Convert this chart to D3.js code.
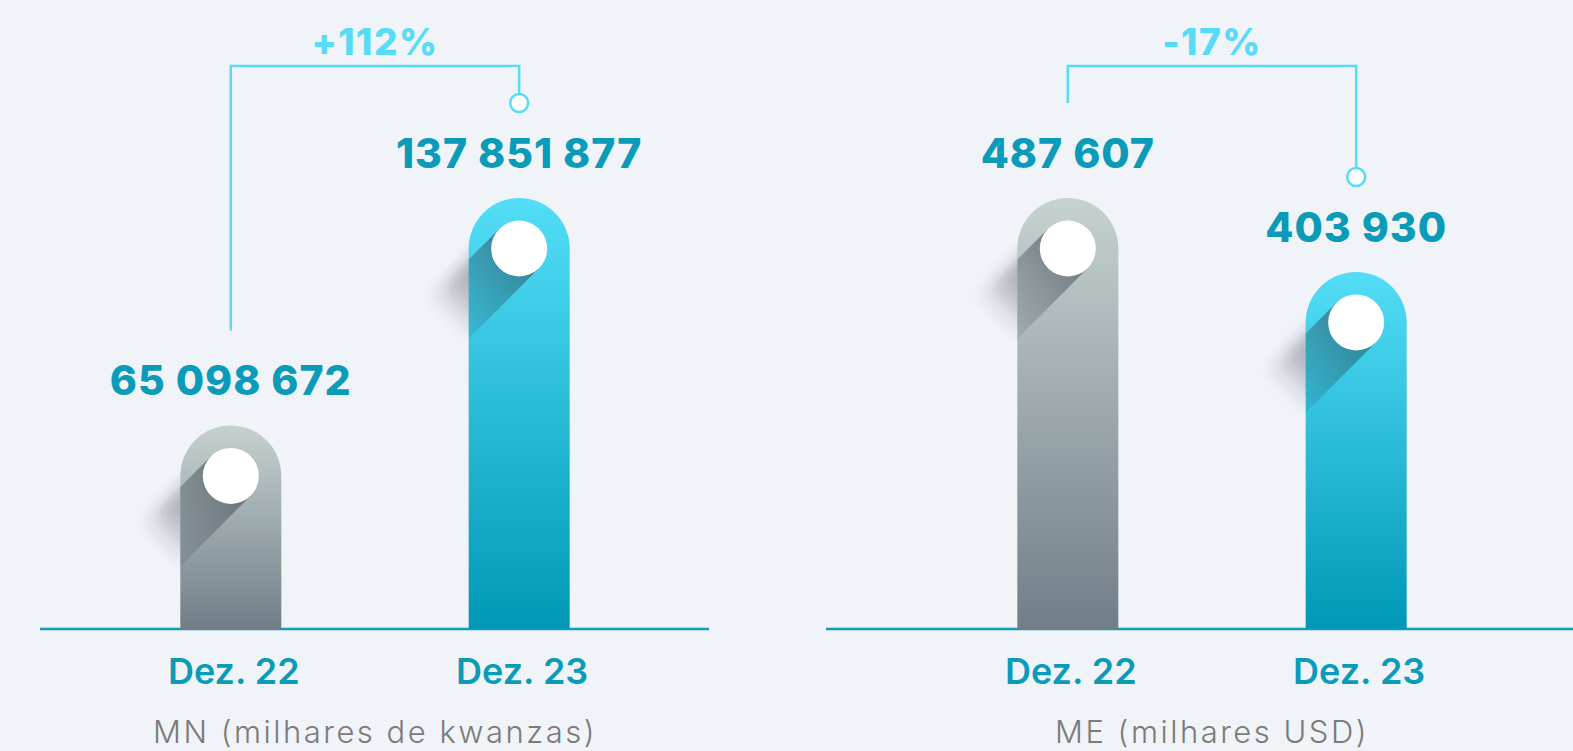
<!DOCTYPE html>
<html>
<head>
<meta charset="utf-8">
<script src="https://cdn.jsdelivr.net/npm/d3@7/dist/d3.min.js"></script>
<style>
  html, body { margin: 0; padding: 0; background: #f0f3f8; }
  svg { display: block; }
</style>
</head>
<body>
<svg id="chart" width="1573" height="751"></svg>
<script>
// Deposit totals, December 2022 vs December 2023
const categories = ["Dez. 22", "Dez. 23"];
const mnValues = [65098672, 137851877];   // MN, thousands of kwanzas
const meValues = [487607, 403930];        // ME, thousands of USD
const changeLabels = ["+112%", "-17%"];
const panelTitles = ["MN (milhares de kwanzas)", "ME (milhares USD)"];

const W = 1573, H = 751;
const baseY = 629, topY = 198;
const barW = 101, dotR = 28;
const bracketY = 66;
const FONT = "Inter, 'Open Sans', 'DejaVu Sans', sans-serif";

const C = {
  bg: "#f0f3f8",
  axis: "#149db8",
  value: "#0a9bb9",
  change: "#56dcf7",
  title: "#7b7b7b",
  grayTop: "#c6d2d0", grayBot: "#717e88",
  tealTop: "#53ddf7", tealBot: "#0098b6"
};

const panels = [
  { values: mnValues, change: changeLabels[0], title: panelTitles[0], cx: 375, axis: [40, 709] },
  { values: meValues, change: changeLabels[1], title: panelTitles[1], cx: 1212, axis: [826, 1573] }
];

const svg = d3.select("#chart");
svg.append("rect").attr("width", W).attr("height", H).attr("fill", C.bg);
const defs = svg.append("defs");

const fmt = d3.formatLocale({ decimal: ",", thousands: " ", grouping: [3], currency: ["", ""] }).format(",d");

// bar gradients (per bar, top to bottom)
[["gradGray", C.grayTop, C.grayBot], ["gradTeal", C.tealTop, C.tealBot]].forEach(([id, a, b]) => {
  const g = defs.append("linearGradient").attr("id", id).attr("x1", 0).attr("y1", 0).attr("x2", 0).attr("y2", 1);
  g.append("stop").attr("offset", 0).attr("stop-color", a);
  g.append("stop").attr("offset", 1).attr("stop-color", b);
});
defs.append("filter").attr("id", "soft").attr("x", "-50%").attr("y", "-50%").attr("width", "200%").attr("height", "200%")
  .append("feGaussianBlur").attr("stdDeviation", 7);

function barPath(x0, top, w, base) {
  const r = w / 2;
  return `M${x0},${base}L${x0},${top + r}A${r},${r} 0 0 1 ${x0 + w},${top + r}L${x0 + w},${base}Z`;
}

// long diagonal shadow cast by the dot toward the lower left
function shadowPath(cx, cy, r, L) {
  const s = Math.SQRT1_2;
  const ux = -s, uy = s, nx = s, ny = s;
  const p1 = [cx + r * nx, cy + r * ny];
  const p2 = [p1[0] + L * ux, p1[1] + L * uy];
  const p4 = [cx - r * nx, cy - r * ny];
  const p3 = [p4[0] + L * ux, p4[1] + L * uy];
  return `M${p1}L${p2}A${r},${r} 0 0 1 ${p3}L${p4}Z`;
}

panels.forEach((p, pi) => {
  const x = d3.scalePoint().domain(categories).range([p.cx - 334.5, p.cx + 334.5]).padding(0.66);
  const y = d3.scaleLinear().domain([0, d3.max(p.values)]).range([baseY, topY]);
  const g = svg.append("g");

  // baseline
  g.append("line").attr("x1", p.axis[0]).attr("x2", p.axis[1]).attr("y1", baseY).attr("y2", baseY)
    .attr("stroke", C.axis).attr("stroke-width", 2.5);

  categories.forEach((cat, i) => {
    const v = p.values[i];
    const cx = x(cat), top = y(v), x0 = cx - barW / 2;
    const cy = top + barW / 2;
    const L = 100;
    const id = `p${pi}b${i}`;
    const s = Math.SQRT1_2;

    const sg = defs.append("linearGradient").attr("id", "sh" + id).attr("gradientUnits", "userSpaceOnUse")
      .attr("x1", cx).attr("y1", cy).attr("x2", cx - L * s).attr("y2", cy + L * s);
    sg.append("stop").attr("offset", 0).attr("stop-color", "#1c2530").attr("stop-opacity", 0.45);
    sg.append("stop").attr("offset", 1).attr("stop-color", "#1c2530").attr("stop-opacity", 0.08);

    const og = defs.append("linearGradient").attr("id", "osh" + id).attr("gradientUnits", "userSpaceOnUse")
      .attr("x1", cx).attr("y1", cy).attr("x2", cx - L * s).attr("y2", cy + L * s);
    og.append("stop").attr("offset", 0).attr("stop-color", "#2a3040").attr("stop-opacity", 0.4);
    og.append("stop").attr("offset", 0.65).attr("stop-color", "#2a3040").attr("stop-opacity", 0.3);
    og.append("stop").attr("offset", 1).attr("stop-color", "#2a3040").attr("stop-opacity", 0);

    defs.append("clipPath").attr("id", "clip" + id).append("path").attr("d", barPath(x0, top, barW, baseY));

    // soft shadow spilling outside the bar
    g.append("path").attr("d", shadowPath(cx, cy, dotR, L - 8)).attr("fill", `url(#osh${id})`).attr("filter", "url(#soft)");

    // bar
    g.append("path").attr("d", barPath(x0, top, barW, baseY))
      .attr("fill", i === 0 ? "url(#gradGray)" : "url(#gradTeal)");

    // crisp shadow on the bar
    g.append("path").attr("d", shadowPath(cx, cy, dotR, L)).attr("fill", `url(#sh${id})`)
      .attr("clip-path", `url(#clip${id})`);

    // dot
    g.append("circle").attr("cx", cx).attr("cy", cy).attr("r", dotR).attr("fill", "#ffffff");

    // value label
    g.append("text").attr("x", cx).attr("y", top - 30).attr("text-anchor", "middle")
      .attr("font-family", FONT).attr("font-weight", 800).attr("font-size", 41)
      .attr("letter-spacing", 1).attr("fill", C.value).text(fmt(v));

    // category label
    g.append("text").attr("x", cx + 3).attr("y", 684).attr("text-anchor", "middle")
      .attr("font-family", FONT).attr("font-weight", 600).attr("font-size", 36)
      .attr("fill", C.value).text(cat);
  });

  // change bracket between the two bars
  const xa = x(categories[0]), xb = x(categories[1]);
  const ya = y(p.values[0]) - 95, yb = y(p.values[1]) - 95;
  g.append("path").attr("d", `M${xa},${ya}L${xa},${bracketY}L${xb},${bracketY}L${xb},${yb - 9}`)
    .attr("fill", "none").attr("stroke", C.change).attr("stroke-width", 2.5);
  g.append("circle").attr("cx", xb).attr("cy", yb).attr("r", 9)
    .attr("fill", "#ffffff").attr("stroke", C.change).attr("stroke-width", 2.5);
  g.append("text").attr("x", (xa + xb) / 2).attr("y", 55).attr("text-anchor", "middle")
    .attr("font-family", FONT).attr("font-weight", 800).attr("font-size", 37)
    .attr("letter-spacing", 1.5).attr("fill", C.change).text(p.change);

  // panel title
  g.append("text").attr("x", p.cx).attr("y", 743).attr("text-anchor", "middle")
    .attr("font-family", FONT).attr("font-weight", 300).attr("font-size", 31)
    .attr("letter-spacing", 2.5).attr("fill", C.title).text(p.title);
});
</script>
</body>
</html>
